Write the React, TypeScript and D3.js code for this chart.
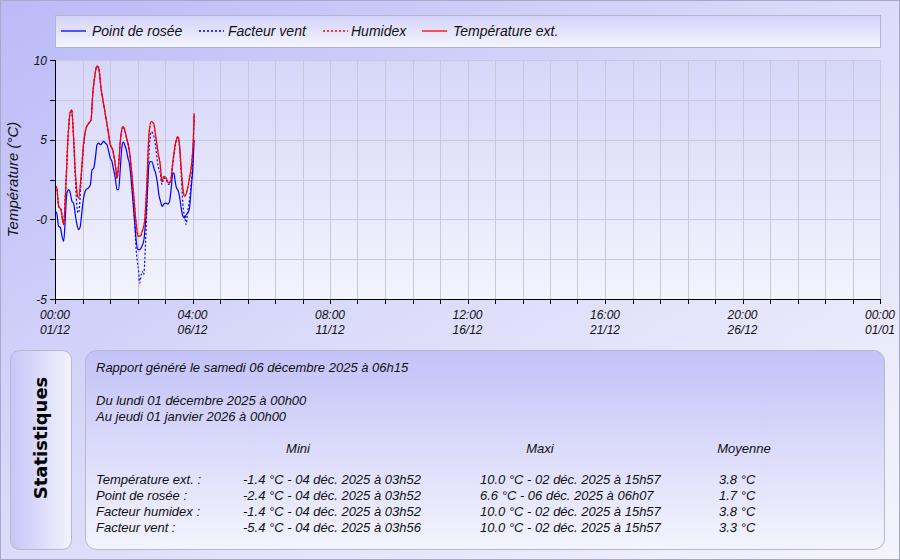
import React from "react";
import * as d3 from "d3";

// ---------- DATA ----------
const startDate = Date.UTC(2025, 11, 1, 0, 0);
const endDate = Date.UTC(2026, 0, 1, 0, 0);

// Température ext. (hours since 01/12 00:00, °C)
const tempHours = [0, 1.5, 3.3, 5.4, 7.8, 9.3, 11.4, 13.5, 15, 16.5, 18.3, 20.4, 21.3, 23.4, 25.8, 28, 30.4, 32.5, 34, 36, 37.9, 39.4, 41.5, 44.5, 47.5, 49.9, 52, 54.4, 55.9, 57.4, 58.9, 61.3, 62.3, 64.9, 66.4, 68.8, 71.2, 73.3, 74.8, 76.9, 78.7, 80.8, 82.9, 84.7, 86.8, 88.9, 90.7, 92.8, 94.9, 96.4, 98.2, 100.3, 102.4, 104.2, 106.3, 108.7, 110.8, 112.3, 113.8, 115.3, 116.8, 118.9, 121.3, 123.4, 124.9, 125.5];
const tempValues = [2.07, 2.0, 0.81, 0.6, -0.33, 1.34, 4.68, 6.66, 6.87, 5.5, 3.0, 1.44, 1.34, 2.6, 4.78, 5.72, 6.03, 6.24, 7.8, 9.06, 9.62, 9.5, 8.23, 6.97, 5.72, 4.68, 4.36, 3.42, 2.59, 3.42, 4.89, 5.82, 5.72, 5.0, 4.57, 3.2, 1.34, -0.33, -1.06, -1.06, -0.75, -0.13, 2.38, 5.3, 6.14, 6.03, 5.3, 4.26, 3.42, 2.38, 2.69, 2.59, 2.28, 2.38, 3.63, 4.78, 5.2, 4.68, 3.2, 1.96, 1.44, 1.75, 2.59, 3.63, 5.3, 6.66];

// Humidex (coincides with the temperature)
const humidexValues = [2.07, 2.0, 0.81, 0.6, -0.33, 1.34, 4.68, 6.66, 6.87, 5.5, 3.0, 1.44, 1.34, 2.6, 4.78, 5.72, 6.03, 6.24, 7.8, 9.06, 9.62, 9.5, 8.23, 6.97, 5.72, 4.68, 4.36, 3.42, 2.59, 3.42, 4.89, 5.82, 5.72, 5.0, 4.57, 3.2, 1.34, -0.33, -1.06, -1.06, -0.75, -0.13, 2.38, 5.3, 6.14, 6.03, 5.3, 4.26, 3.42, 2.38, 2.69, 2.59, 2.28, 2.38, 3.63, 4.78, 5.2, 4.68, 3.2, 1.96, 1.44, 1.75, 2.59, 3.63, 5.3, 6.66];

// Point de rosée
const dewHours = [0, 1.5, 3.3, 4.8, 6.3, 7.8, 9, 10.5, 12.3, 13.8, 15.3, 16.8, 18.3, 19.8, 21.3, 22.8, 24.3, 25.8, 28, 30, 31.9, 33.4, 34.9, 36.4, 37.9, 39.4, 40.9, 42.4, 43.9, 45.4, 46.9, 48.4, 49.9, 51.4, 52.9, 54.4, 55.9, 57.4, 58.9, 60.4, 61.6, 62.8, 64.3, 65.8, 67.3, 68.8, 70.3, 71.8, 73.3, 74.8, 76.3, 78.4, 80.2, 81.7, 83.2, 84.7, 86.2, 87.7, 89.2, 90.7, 92.2, 93.7, 95.2, 96.7, 98.2, 99.7, 101.8, 103.3, 104.8, 106.3, 107.2, 108.4, 109.6, 110.8, 112.3, 113.8, 115.3, 116.8, 118.3, 119.8, 121.3, 122.8, 124.3, 125.5];
const dewValues = [0.5, 0.4, -0.44, -0.5, -1.06, -1.38, -0.33, 1.54, 1.86, 1.65, 1.13, 1.0, 0.29, -0.33, -0.65, -0.44, 0.5, 1.34, 1.86, 1.96, 2.17, 3.1, 3.2, 3.84, 4.68, 4.78, 4.68, 4.78, 4.89, 4.78, 4.68, 4.26, 3.84, 3.63, 3.1, 2.59, 1.86, 1.86, 3.2, 4.57, 4.84, 4.68, 4.36, 3.84, 3.42, 2.38, 1.13, -0.13, -1.38, -1.9, -1.9, -1.69, -1.27, -0.13, 1.54, 3.42, 3.63, 3.59, 3.2, 2.9, 2.38, 1.54, 1.13, 0.81, 0.96, 1.02, 0.96, 1.13, 1.96, 2.9, 2.9, 2.38, 1.96, 1.86, 1.44, 0.71, 0.19, 0.08, 0.29, 0.4, 0.71, 1.96, 3.2, 4.99];

// Facteur vent
const windHours = [0, 1.5, 3.3, 5.4, 7.8, 9.3, 11.4, 13.5, 15, 16.5, 18.3, 19.5, 20.4, 21.3, 22.2, 23.4, 24.5, 25.8, 28, 30.4, 32.5, 34, 36, 37.9, 39.4, 41.5, 44.5, 47.5, 49.9, 52, 54.4, 55.9, 57.4, 58.9, 61.3, 62.3, 64.9, 66.4, 68.8, 70.3, 71.8, 73.3, 74.2, 75.4, 76.3, 77.8, 78.7, 79.9, 80.8, 81.7, 83.2, 84.7, 86.8, 88.9, 90.7, 92.8, 94.9, 96.4, 98.2, 100.3, 102.4, 104.2, 106.3, 108.7, 110.8, 112.3, 113.8, 115.3, 116.4, 117.4, 118.3, 119.3, 121.3, 123.4, 124.9, 125.5];
const windValues = [2.07, 2.0, 0.81, 0.6, -0.33, 1.34, 4.6, 6.6, 6.85, 5.4, 2.6, 1.0, 0.45, 0.4, 0.9, 2.3, 3.5, 4.6, 5.7, 6.03, 6.24, 7.8, 9.06, 9.62, 9.5, 8.23, 6.97, 5.72, 4.68, 4.36, 3.42, 2.59, 3.42, 4.89, 5.82, 5.72, 5.0, 4.57, 3.2, 1.5, -0.13, -2.0, -2.63, -3.26, -3.99, -3.47, -3.26, -3.47, -2.84, -1.38, 1.34, 4.0, 5.5, 5.3, 4.6, 3.4, 2.9, 2.2, 2.6, 2.5, 2.2, 2.3, 3.5, 4.7, 5.15, 4.5, 2.8, 1.0, 0.3, 0.0, -0.33, 0.3, 1.2, 2.8, 4.8, 6.6];

const yMajorTicks = [10, 5, 0, -5];
const yTickLabels = ["10", "5", "-0", "-5"];
const yAllTicks = [10, 7.5, 5, 2.5, 0, -2.5, -5];
const xMajorTickHours = [0, 124, 248, 372, 496, 620, 744];
const xMinorStepHours = 24.8;

const legendLabels = ["Point de rosée", "Facteur vent", "Humidex", "Température ext."];

const reportLines = [
  "Rapport généré le samedi 06 décembre 2025 à 06h15",
  "Du lundi 01 décembre 2025 à 00h00",
  "Au jeudi 01 janvier 2026 à 00h00",
];
const statHeaders = ["Mini", "Maxi", "Moyenne"];
const statLabels = ["Température ext. :", "Point de rosée :", "Facteur humidex :", "Facteur vent :"];
const statMini = ["-1.4 °C - 04 déc. 2025 à 03h52", "-2.4 °C - 04 déc. 2025 à 03h52", "-1.4 °C - 04 déc. 2025 à 03h52", "-5.4 °C - 04 déc. 2025 à 03h56"];
const statMaxi = ["10.0 °C - 02 déc. 2025 à 15h57", "6.6 °C - 06 déc. 2025 à 06h07", "10.0 °C - 02 déc. 2025 à 15h57", "10.0 °C - 02 déc. 2025 à 15h57"];
const statMoy = ["3.8 °C", "1.7 °C", "3.8 °C", "3.3 °C"];

// ---------- LAYOUT ----------
const W = 900;
const H = 560;
const plot = { left: 55, right: 880, top: 60, bottom: 299 };
const FONT = "'Liberation Sans', Arial, sans-serif";

export default function App() {
  const x = d3
    .scaleTime()
    .domain([new Date(startDate), new Date(endDate)])
    .range([plot.left, plot.right]);
  const y = d3.scaleLinear().domain([-5, 10]).range([plot.bottom, plot.top]);
  const hx = (h: number) => x(new Date(startDate + h * 3600 * 1000));

  const mkLine = (hours: number[], vals: number[]) =>
    d3
      .line<number>()
      .x((_, i) => hx(hours[i]))
      .y((v) => y(v))
      .curve(d3.curveMonotoneX)(vals) || "";

  const minorHours: number[] = [];
  for (let k = 0; k <= 30; k++) minorHours.push(k * xMinorStepHours);

  const fmtTime = d3.utcFormat("%H:%M");
  const fmtDay = d3.utcFormat("%d/%m");

  const gridColor = "#c8c8dc";
  const tx = { fontFamily: FONT, fontStyle: "italic" as const, fill: "#111" };

  const legendItems = [
    { label: legendLabels[0], color: "#0000ff", dash: null, x0: 61, tx: 92 },
    { label: legendLabels[1], color: "#0000ff", dash: "2,2", x0: 199, tx: 228 },
    { label: legendLabels[2], color: "#ff0000", dash: "2,2", x0: 323, tx: 351 },
    { label: legendLabels[3], color: "#ff0000", dash: null, x0: 422, tx: 453 },
  ];

  const colX = [243, 480, 719];
  const headX = [298, 540, 744];
  const rowY = [484, 500, 516, 532];

  return (
    <svg
      width={W}
      height={H}
      style={{ position: "fixed", left: 0, top: 0, display: "block" }}
    >
      <defs>
        <linearGradient id="bg" x1="0" y1="0" x2="1" y2="1">
          <stop offset="0" stopColor="#babaf8" />
          <stop offset="0.5" stopColor="#dcdcfa" />
          <stop offset="1" stopColor="#f4f4fd" />
        </linearGradient>
        <linearGradient id="plotbg" x1="0" y1="0" x2="0" y2="1">
          <stop offset="0" stopColor="#d6d6fa" />
          <stop offset="1" stopColor="#f4f4fd" />
        </linearGradient>
        <linearGradient id="legbg" x1="0" y1="0" x2="0" y2="1">
          <stop offset="0" stopColor="#d2d2fa" />
          <stop offset="1" stopColor="#f6f6fe" />
        </linearGradient>
        <linearGradient id="statbg" x1="0" y1="0" x2="0" y2="1">
          <stop offset="0" stopColor="#c2c2f8" />
          <stop offset="1" stopColor="#f4f4fd" />
        </linearGradient>
        <linearGradient id="sidebg" x1="0" y1="0" x2="1" y2="0">
          <stop offset="0" stopColor="#c6c6f8" />
          <stop offset="1" stopColor="#f2f2fd" />
        </linearGradient>
        <clipPath id="clip">
          <rect x={plot.left} y={plot.top} width={plot.right - plot.left} height={plot.bottom - plot.top} />
        </clipPath>
      </defs>

      <rect x={0.5} y={0.5} width={W - 1} height={H - 1} fill="url(#bg)" stroke="#a8a8c8" />

      {/* Legend */}
      <rect x={55.5} y={15.5} width={825} height={32} fill="url(#legbg)" stroke="#b4b4cc" />
      {legendItems.map((it, i) => (
        <g key={i}>
          <line x1={it.x0} x2={it.x0 + 25} y1={31} y2={31} stroke={it.color} strokeWidth={1.3} strokeDasharray={it.dash || undefined} />
          <text x={it.tx} y={36} fontSize={14} {...tx}>{it.label}</text>
        </g>
      ))}

      {/* Plot area */}
      <rect x={plot.left} y={plot.top} width={plot.right - plot.left} height={plot.bottom - plot.top} fill="url(#plotbg)" />
      {yAllTicks.map((v, i) => (
        <line key={"gy" + i} x1={plot.left} x2={plot.right} y1={Math.round(y(v)) + 0.5} y2={Math.round(y(v)) + 0.5} stroke={gridColor} />
      ))}
      {minorHours.map((h, i) => (
        <line key={"gx" + i} x1={Math.round(hx(h)) + 0.5} x2={Math.round(hx(h)) + 0.5} y1={plot.top} y2={plot.bottom} stroke={gridColor} />
      ))}

      <g clipPath="url(#clip)" fill="none">
        <path d={mkLine(windHours, windValues)} stroke="#0000ff" strokeWidth={1.2} strokeDasharray="2,2" />
        <path d={mkLine(dewHours, dewValues)} stroke="#0000ff" strokeWidth={1.2} />
        <path d={mkLine(tempHours, humidexValues)} stroke="#ff0000" strokeWidth={1.2} strokeDasharray="2,2" />
        <path d={mkLine(tempHours, tempValues)} stroke="#ff0000" strokeWidth={1.2} />
      </g>

      {/* Y axis */}
      <line x1={plot.left + 0.5} x2={plot.left + 0.5} y1={plot.top} y2={plot.bottom + 1} stroke="#000" />
      {yAllTicks.map((v, i) => (
        <line key={"ty" + i} x1={plot.left - 5} x2={plot.left} y1={Math.round(y(v)) + 0.5} y2={Math.round(y(v)) + 0.5} stroke="#000" />
      ))}
      {yMajorTicks.map((v, i) => (
        <text key={"ly" + i} x={plot.left - 8} y={y(v) + 4.5} fontSize={12} textAnchor="end" {...tx}>
          {yTickLabels[i]}
        </text>
      ))}
      <text
        transform={`translate(18,${(plot.top + plot.bottom) / 2}) rotate(-90)`}
        fontSize={15}
        textAnchor="middle"
        {...tx}
      >
        Température (°C)
      </text>

      {/* X axis */}
      <line x1={plot.left} x2={plot.right + 1} y1={plot.bottom + 0.5} y2={plot.bottom + 0.5} stroke="#000" />
      {minorHours.map((h, i) => (
        <line key={"tx" + i} x1={Math.round(hx(h)) + 0.5} x2={Math.round(hx(h)) + 0.5} y1={plot.bottom} y2={plot.bottom + 5} stroke="#000" />
      ))}
      {xMajorTickHours.map((h, i) => {
        const d = new Date(startDate + h * 3600 * 1000);
        const cx = hx(h);
        return (
          <g key={"lx" + i}>
            <text x={cx} y={319} fontSize={12} textAnchor="middle" {...tx}>{fmtTime(d)}</text>
            <text x={cx} y={334} fontSize={12} textAnchor="middle" {...tx}>{fmtDay(d)}</text>
          </g>
        );
      })}

      {/* Statistics side box */}
      <rect x={10.5} y={350.5} width={61} height={199} rx={9} fill="url(#sidebg)" stroke="#b8b8c8" />
      <text
        transform="translate(47,438) rotate(-90)"
        fontSize={18}
        fontWeight="bold"
        textAnchor="middle"
        fontFamily="'DejaVu Sans', sans-serif"
        fill="#000"
      >
        Statistiques
      </text>

      {/* Statistics main box */}
      <rect x={85.5} y={350.5} width={799} height={199} rx={11} fill="url(#statbg)" stroke="#b8b8c8" />
      <text x={96} y={372} fontSize={13} {...tx}>{reportLines[0]}</text>
      <text x={96} y={405} fontSize={13} {...tx}>{reportLines[1]}</text>
      <text x={96} y={421} fontSize={13} {...tx}>{reportLines[2]}</text>
      {statHeaders.map((s, i) => (
        <text key={"h" + i} x={headX[i]} y={453} fontSize={13} textAnchor="middle" {...tx}>{s}</text>
      ))}
      {statLabels.map((s, i) => (
        <g key={"r" + i}>
          <text x={96} y={rowY[i]} fontSize={13} {...tx}>{s}</text>
          <text x={colX[0]} y={rowY[i]} fontSize={13} {...tx}>{statMini[i]}</text>
          <text x={colX[1]} y={rowY[i]} fontSize={13} {...tx}>{statMaxi[i]}</text>
          <text x={colX[2]} y={rowY[i]} fontSize={13} {...tx}>{statMoy[i]}</text>
        </g>
      ))}
    </svg>
  );
}
